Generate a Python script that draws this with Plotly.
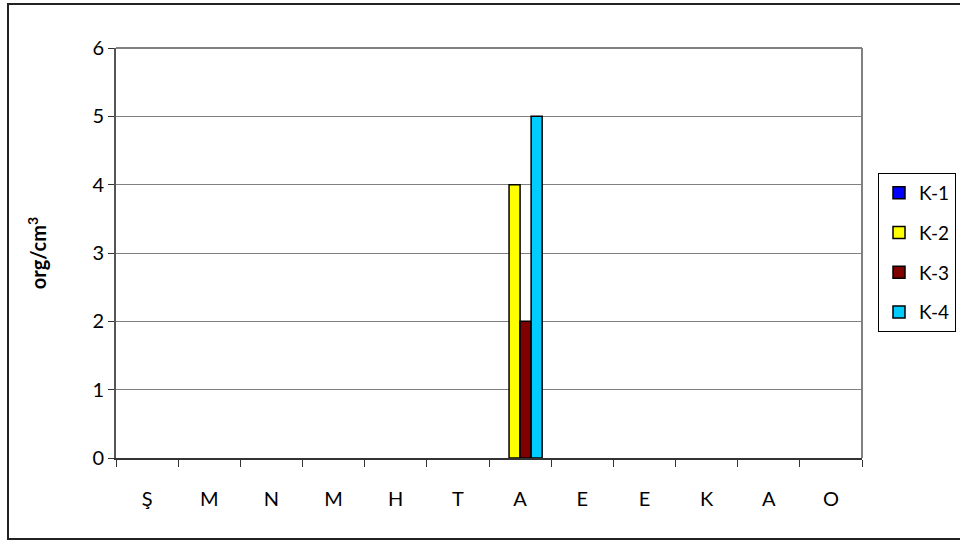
import plotly.graph_objects as go

months = ["Ş", "M", "N", "M ", "H", "T", "A", "E", "E ", "K", "A ", "O"]
month_labels = ["Ş", "M", "N", "M", "H", "T", "A", "E", "E", "K", "A", "O"]
k1 = [0, 0, 0, 0, 0, 0, 0, 0, 0, 0, 0, 0]
k2 = [0, 0, 0, 0, 0, 0, 4, 0, 0, 0, 0, 0]
k3 = [0, 0, 0, 0, 0, 0, 2, 0, 0, 0, 0, 0]
k4 = [0, 0, 0, 0, 0, 0, 5, 0, 0, 0, 0, 0]

series = [("K-1", k1, "#0000FF"), ("K-2", k2, "#FFFF00"),
          ("K-3", k3, "#800000"), ("K-4", k4, "#00CCFF")]

FONT = "Lato, Carlito, Calibri, sans-serif"
FS = 20
W, H = 960, 541
L, R, T, B = 116, 98, 48, 83
pw, ph = W - L - R, H - T - B

fig = go.Figure()
for name, vals, color in series:
    fig.add_trace(go.Bar(
        x=months, y=[v if v else None for v in vals], name=name,
        marker=dict(color=color, line=dict(color="black", width=1.5)),
        legendgroup=name,
    ))

fig.update_layout(
    width=W, height=H,
    margin=dict(l=L, r=R, t=T, b=B, autoexpand=False),
    paper_bgcolor="white", plot_bgcolor="white",
    barmode="group", bargap=0.29, bargroupgap=0,
    font=dict(family=FONT, size=FS, color="black"),
    showlegend=True,
    legend=dict(x=(878 - L) / pw, y=1 - (173 - T) / ph, xanchor="left", yanchor="top",
                bgcolor="white", bordercolor="black", borderwidth=1,
                font=dict(size=19), tracegroupgap=12, traceorder="grouped",
                itemwidth=30),
    xaxis=dict(
        tickmode="array", tickvals=months, ticktext=month_labels,
        tickson="boundaries", ticks="outside", ticklen=7, tickcolor="#333",
        showline=True, linecolor="#333", linewidth=2,
        showgrid=False, mirror=False, tickfont=dict(size=FS),
        ticklabelstandoff=22,
        range=[-0.5, 11.5], automargin=False,
    ),
    yaxis=dict(
        range=[0, 6], dtick=1, ticks="outside", ticklen=6, tickcolor="#333",
        showline=True, linecolor="#555", linewidth=2,
        showgrid=True, gridcolor="#808080", gridwidth=1,
        zeroline=False, tickfont=dict(size=FS), automargin=False,
        title=dict(text="<b>org/cm<sup>3</sup></b>", font=dict(size=FS), standoff=40),
    ),
    shapes=[
        # plot area frame (top and right edges)
        dict(type="line", xref="paper", yref="paper", x0=0, x1=1, y0=1, y1=1,
             line=dict(color="#808080", width=2)),
        dict(type="line", xref="paper", yref="paper", x0=1, x1=1, y0=0, y1=1,
             line=dict(color="#808080", width=2)),
        # chart outer border
        dict(type="rect", xref="paper", yref="paper",
             x0=(8 - L) / pw, x1=(963 - L) / pw,
             y0=1 - (539 - T) / ph, y1=1 - (4 - T) / ph,
             line=dict(color="#222", width=2), layer="below"),
    ],
)

fig.write_html("out.html")
